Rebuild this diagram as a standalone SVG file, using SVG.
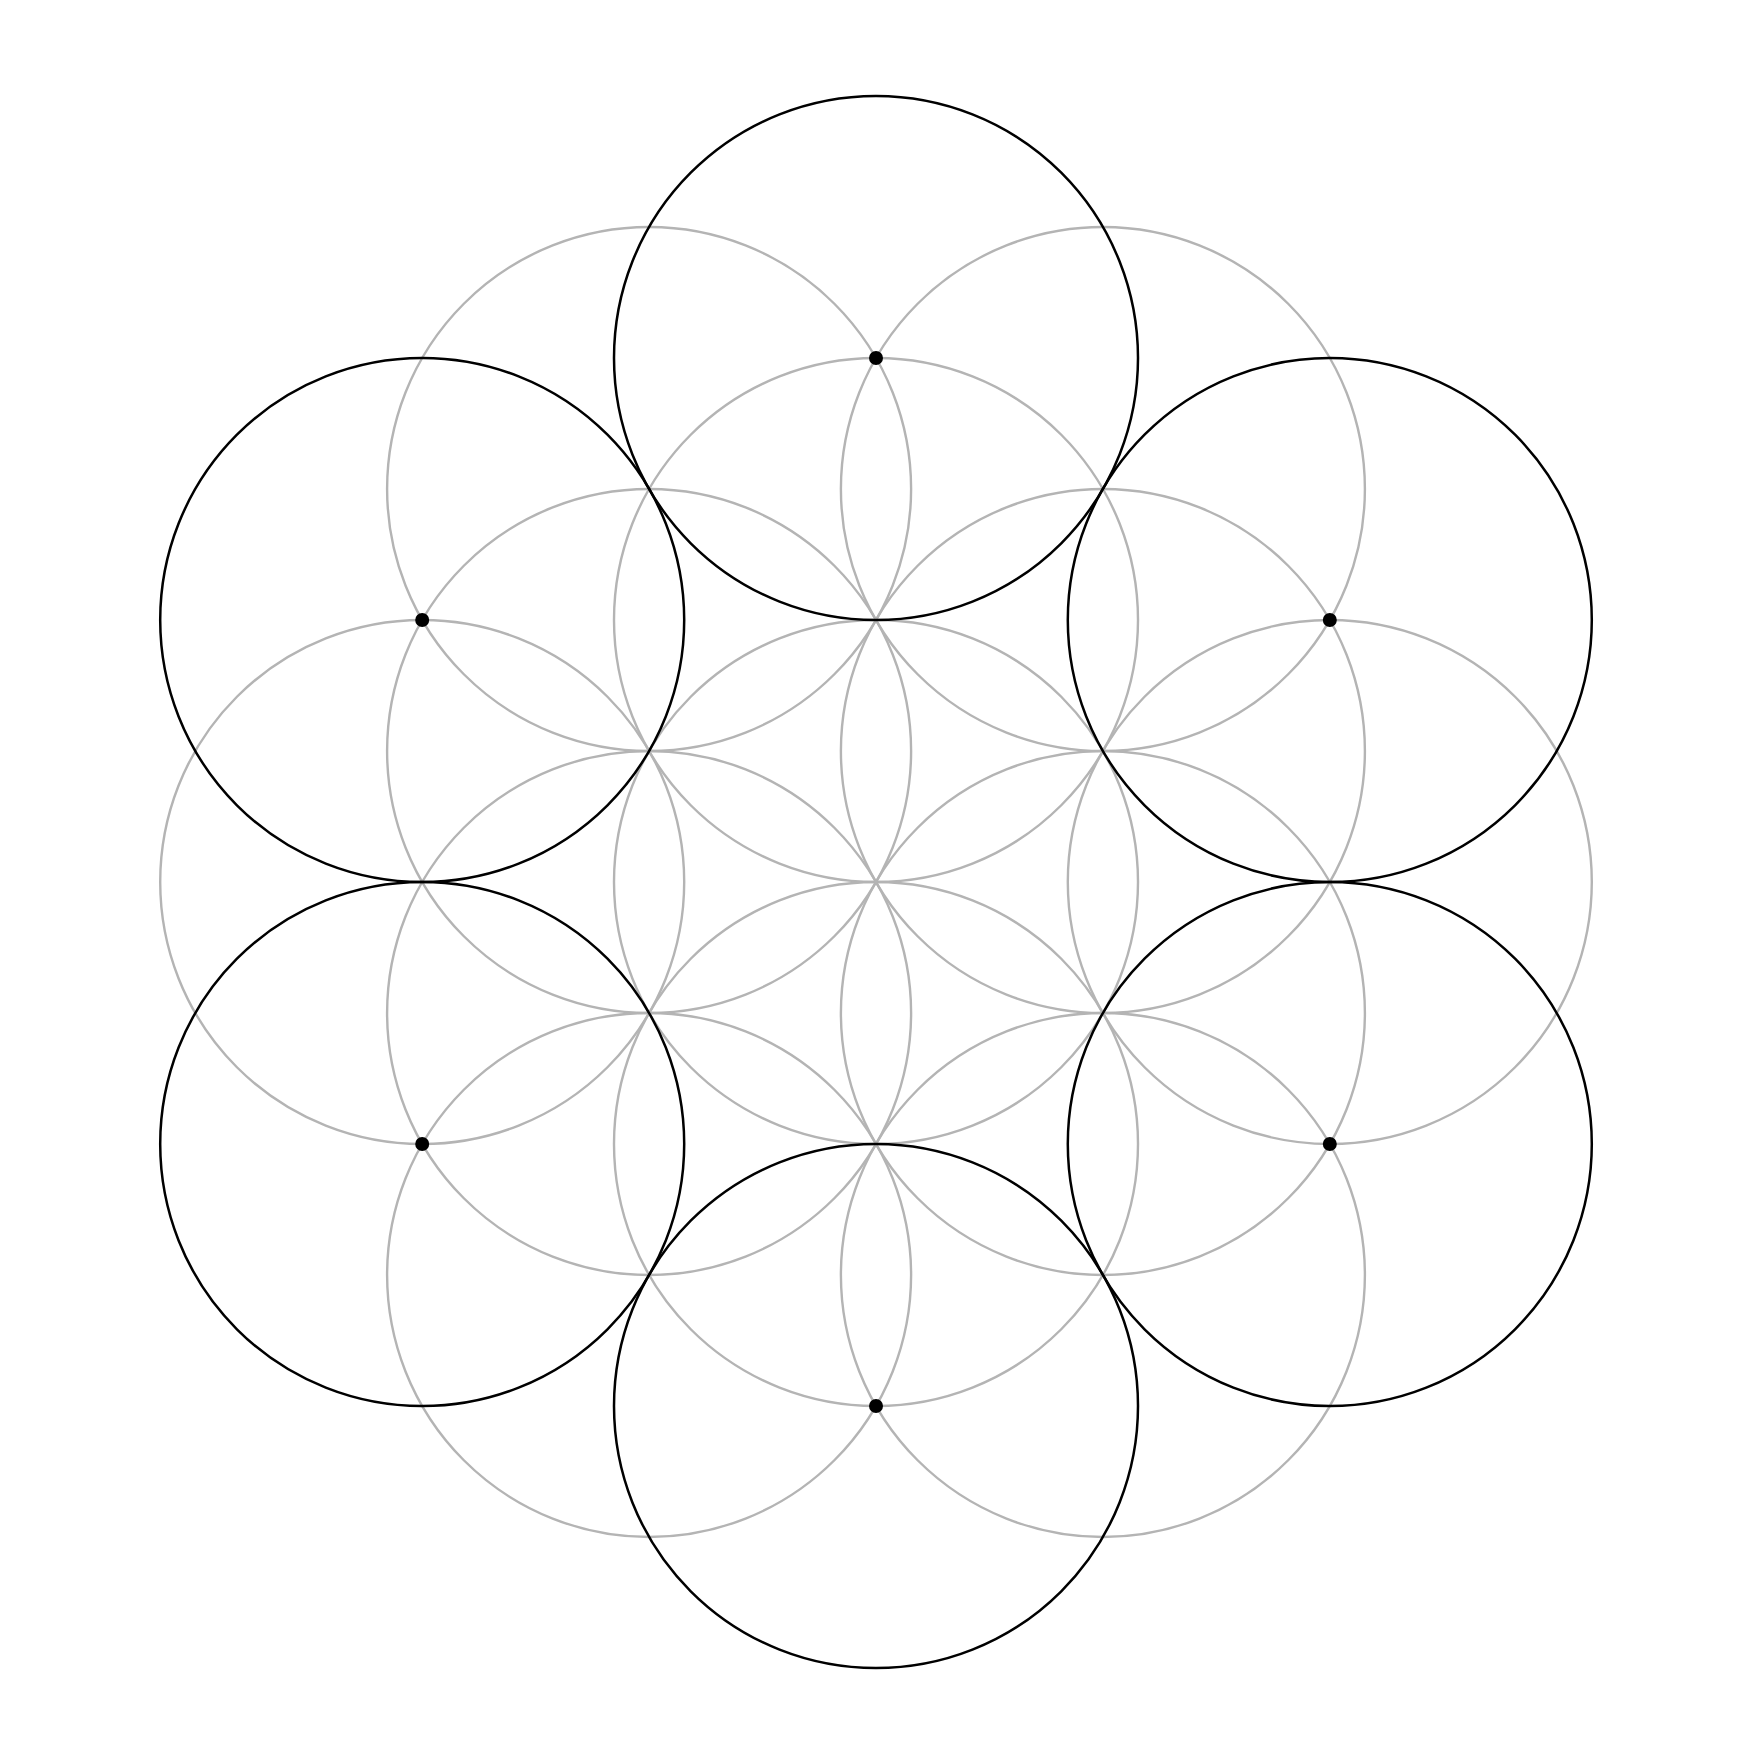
<svg xmlns="http://www.w3.org/2000/svg" width="1757" height="1757" viewBox="0 0 1757 1757">
<style>
.g{fill:none;stroke:#b4b4b4;stroke-width:2.4}
.b{fill:none;stroke:#000;stroke-width:2.5}
.d{fill:#000}
</style>
<rect width="1757" height="1757" fill="#fff"/>
<g id="gray-circles">
<circle class="g" cx="876" cy="882" r="262"/>
<circle class="g" cx="876" cy="620" r="262"/>
<circle class="g" cx="876" cy="1144" r="262"/>
<circle class="g" cx="1102.9" cy="751" r="262"/>
<circle class="g" cx="1102.9" cy="1013" r="262"/>
<circle class="g" cx="649.1" cy="751" r="262"/>
<circle class="g" cx="649.1" cy="1013" r="262"/>
<circle class="g" cx="1329.8" cy="882" r="262"/>
<circle class="g" cx="422.2" cy="882" r="262"/>
<circle class="g" cx="1102.9" cy="489" r="262"/>
<circle class="g" cx="649.1" cy="489" r="262"/>
<circle class="g" cx="1102.9" cy="1275" r="262"/>
<circle class="g" cx="649.1" cy="1275" r="262"/>
</g>
<g id="black-top"><circle class="b" cx="876" cy="358" r="262"/><circle class="d" cx="876" cy="358" r="7"/></g>
<g id="black-bottom"><circle class="b" cx="876" cy="1406" r="262"/><circle class="d" cx="876" cy="1406" r="7"/></g>
<g id="black-upper-right"><circle class="b" cx="1329.8" cy="620" r="262"/><circle class="d" cx="1329.8" cy="620" r="7"/></g>
<g id="black-lower-right"><circle class="b" cx="1329.8" cy="1144" r="262"/><circle class="d" cx="1329.8" cy="1144" r="7"/></g>
<g id="black-upper-left"><circle class="b" cx="422.2" cy="620" r="262"/><circle class="d" cx="422.2" cy="620" r="7"/></g>
<g id="black-lower-left"><circle class="b" cx="422.2" cy="1144" r="262"/><circle class="d" cx="422.2" cy="1144" r="7"/></g>
</svg>
